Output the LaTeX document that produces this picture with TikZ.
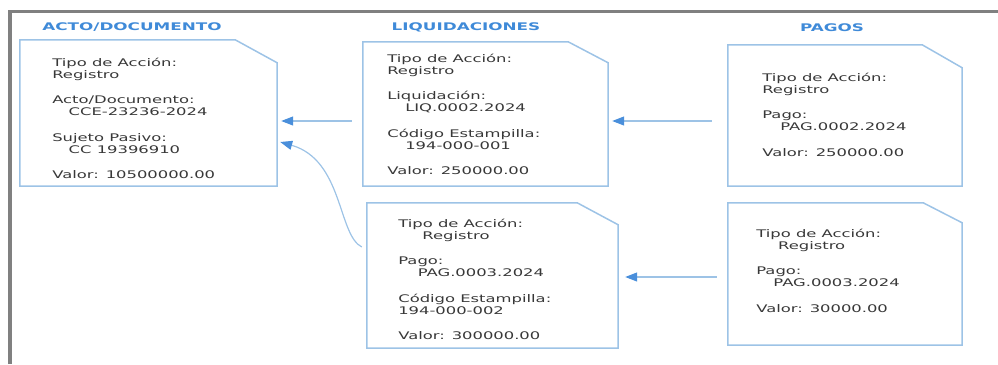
\documentclass[tikz,border=0pt]{standalone}
\usepackage{fontspec}
\setmainfont{DejaVu Sans}
\usetikzlibrary{arrows.meta}

\definecolor{boxblue}{HTML}{9DC3E6}
\definecolor{tipblue}{HTML}{4A8FDB}
\definecolor{headblue}{HTML}{3F8AD8}
\definecolor{txtgray}{HTML}{383838}
\definecolor{framegray}{HTML}{808080}

% outline of a sheet with the upper right corner cut off
\newcommand{\cutbox}[3]{%
  \draw[boxline] (#1.south west) -- (#1.north west) -- ([xshift=-#2]#1.north east)
    -- ([yshift=-#3]#1.north east) -- (#1.south east) -- cycle;}

\begin{document}
\begin{tikzpicture}[x=1pt,y=-1pt,
  docbox/.style={rectangle, inner sep=0pt},
  boxline/.style={draw=boxblue, line width=1.5pt},
  head/.style={font=\bfseries\fontsize{10.5}{12}\selectfont, text=headblue, xscale=1.6, inner sep=0pt},
  info/.style={font=\fontsize{10.5}{12}\selectfont, text=txtgray, align=left, anchor=north west, xscale=1.56, inner sep=0pt},
  link/.style={draw=boxblue, line width=1.2pt, -{Triangle[length=12pt,width=9pt,color=tipblue]}}]
\useasboundingbox (0,0) rectangle (998,364);

\draw[framegray, line width=3.8pt] (10,364) -- (10,11.5) -- (998,11.5);

\node[head] (tacto) at (132,27) {ACTO/DOCUMENTO};
\node[head] (tliq) at (466,27) {LIQUIDACIONES};
\node[head] (tpago) at (832,28) {PAGOS};

\node[docbox, minimum width=257pt, minimum height=146pt] (acto) at (148.5,113) {};
\node[docbox, minimum width=245pt, minimum height=144pt] (liq) at (485.5,114) {};
\node[docbox, minimum width=234pt, minimum height=141pt] (pago1) at (845,115.5) {};
\node[docbox, minimum width=251pt, minimum height=145pt] (liq2) at (492.5,275.5) {};
\node[docbox, minimum width=234pt, minimum height=142pt] (pago2) at (845,274) {};

\cutbox{acto}{42pt}{23pt}
\cutbox{liq}{40pt}{21pt}
\cutbox{pago1}{40pt}{23pt}
\cutbox{liq2}{41pt}{22pt}
\cutbox{pago2}{39pt}{20pt}

\node[info] (actotxt) at (52,57.5) {Tipo de Acción:\\ Registro\\[13.5pt]
  Acto/Documento:\\ \hspace*{10.5pt}CCE-23236-2024\\[13.5pt]
  Sujeto Pasivo:\\ \hspace*{10.5pt}CC 19396910\\[13.5pt]
  Valor: 10500000.00};
\node[info] (liqtxt) at (387,53.5) {Tipo de Acción:\\ Registro\\[13.5pt]
  Liquidación:\\ \hspace*{11.5pt}LIQ.0002.2024\\[13.5pt]
  Código Estampilla:\\ \hspace*{11.5pt}194-000-001\\[13.5pt]
  Valor: 250000.00};
\node[info] (pago1txt) at (762,72.5) {Tipo de Acción:\\ Registro\\[13.5pt]
  Pago:\\ \hspace*{11.5pt}PAG.0002.2024\\[13.5pt]
  Valor: 250000.00};
\node[info] (liq2txt) at (398,218.5) {Tipo de Acción:\\ \hspace*{15.5pt}Registro\\[13.5pt]
  Pago:\\ \hspace*{12.5pt}PAG.0003.2024\\[13.5pt]
  Código Estampilla:\\ 194-000-002\\[13.5pt]
  Valor: 300000.00};
\node[info] (pago2txt) at (756,228.5) {Tipo de Acción:\\ \hspace*{14pt}Registro\\[13.5pt]
  Pago:\\ \hspace*{11pt}PAG.0003.2024\\[13.5pt]
  Valor: 30000.00};

\coordinate (r1) at (0,121);
\coordinate (r2) at (0,277);
\coordinate (c1) at (0,247);
\coordinate (c2) at (0,142);

\draw[link, shorten <=11pt, shorten >=4pt] (liq.west |- r1) -- (acto.east |- r1);
\draw[link, shorten <=16pt, shorten >=4pt] (pago1.west |- r1) -- (liq.east |- r1);
\draw[link, shorten <=11pt, shorten >=7pt] (pago2.west |- r2) -- (liq2.east |- r2);
\draw[link] ([xshift=-5pt]liq2.west |- c1) .. controls +(-24,-12) and +(63,18) .. ([xshift=3pt]acto.east |- c2);
\end{tikzpicture}
\end{document}
